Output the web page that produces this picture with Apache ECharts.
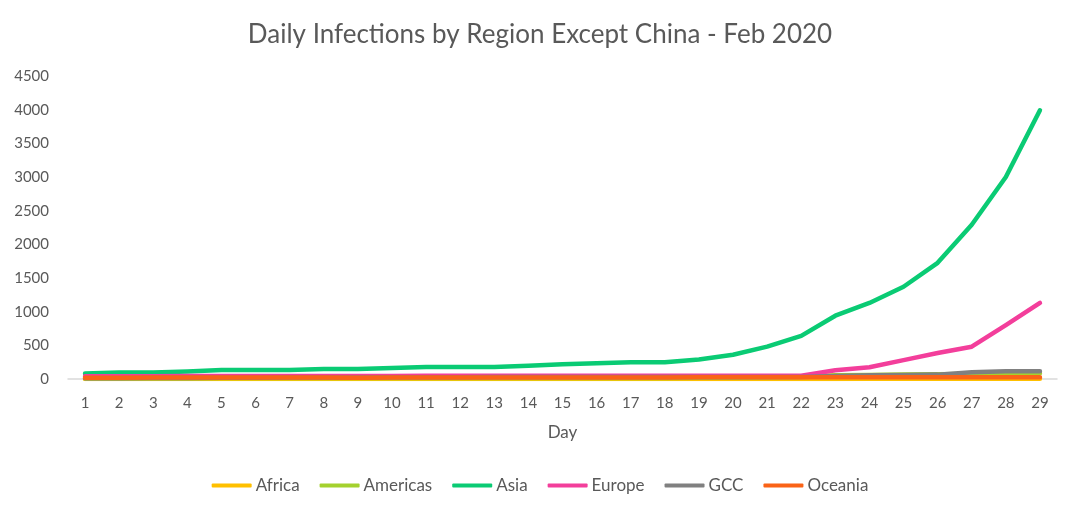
<!DOCTYPE html>
<html>
<head>
<meta charset="utf-8">
<script src="https://cdn.jsdelivr.net/npm/echarts@6/dist/echarts.min.js"></script>
<style>
  html, body { margin: 0; padding: 0; background: #fff; }
  #main { width: 1080px; height: 514px; }
</style>
</head>
<body>
<div id="main"></div>
<script>
// data
var days = [];
for (var d = 1; d <= 29; d++) days.push(String(d));

var africa   = [0,0,0,0,0,0,0,0,0,0,0,0,0,0,1,1,1,1,1,1,1,1,1,2,2,2,3,3,4];
var americas = [10,12,12,12,13,13,13,14,14,14,15,15,15,15,16,16,16,16,18,20,25,35,55,60,65,70,75,80,85];
var asia     = [80,95,95,110,135,135,135,150,150,165,180,180,180,195,220,235,250,250,290,360,480,640,940,1130,1370,1725,2290,3000,3990];
var europe   = [40,42,42,45,45,45,45,45,45,45,48,48,48,48,50,50,50,50,50,50,50,50,130,175,280,385,480,800,1130];
var gcc      = [10,12,14,15,18,20,22,22,24,25,26,26,28,28,28,30,30,30,30,30,30,30,45,55,60,65,100,115,115];
var oceania  = [20,20,22,22,22,22,22,24,18,24,24,24,24,24,24,24,24,24,25,25,25,25,25,25,25,25,25,25,25];

var seriesNames = ['Africa', 'Americas', 'Asia', 'Europe', 'GCC', 'Oceania'];
var seriesData = [africa, americas, asia, europe, gcc, oceania];
var seriesColors = ['#FFC000', '#A4D12E', '#0ACB74', '#F33E9B', '#808080', '#FA6317'];

var font = 'Lato, "Open Sans", sans-serif';

var myChart = echarts.init(document.getElementById('main'));
myChart.setOption({
  animation: false,
  textStyle: { fontFamily: font },
  title: {
    text: 'Daily Infections by Region Except China - Feb 2020',
    left: 'center',
    top: 17,
    textStyle: { fontFamily: font, fontSize: 26, fontWeight: 'normal', color: '#595959' }
  },
  legend: {
    bottom: 15,
    left: 'center',
    itemWidth: 40,
    itemHeight: 4,
    itemGap: 20,
    icon: 'roundRect',
    data: seriesNames,
    textStyle: { fontFamily: font, fontSize: 17, color: '#595959', padding: [0, 0, 0, -1] }
  },
  grid: { left: 68, right: 23, top: 76, bottom: 135 },
  xAxis: {
    type: 'category',
    data: days,
    boundaryGap: true,
    name: 'Day',
    nameLocation: 'middle',
    nameGap: 45,
    nameTextStyle: { fontFamily: font, fontSize: 17, color: '#595959' },
    axisLine: { lineStyle: { color: '#d9d9d9', width: 1.5 } },
    axisTick: { show: false },
    axisLabel: { fontFamily: font, fontSize: 15, color: '#595959', margin: 17 }
  },
  yAxis: {
    type: 'value',
    min: 0,
    max: 4500,
    interval: 500,
    axisLine: { show: false },
    axisTick: { show: false },
    splitLine: { show: false },
    axisLabel: {
      fontFamily: font, fontSize: 15, color: '#595959', margin: 19,
      formatter: function (v) { return String(v); }
    }
  },
  series: seriesNames.map(function (n, i) {
    return {
      name: n,
      type: 'line',
      data: seriesData[i],
      symbol: 'none',
      color: seriesColors[i],
      lineStyle: { width: 4.5, color: seriesColors[i], cap: 'round', join: 'round' }
    };
  })
});
</script>
</body>
</html>
